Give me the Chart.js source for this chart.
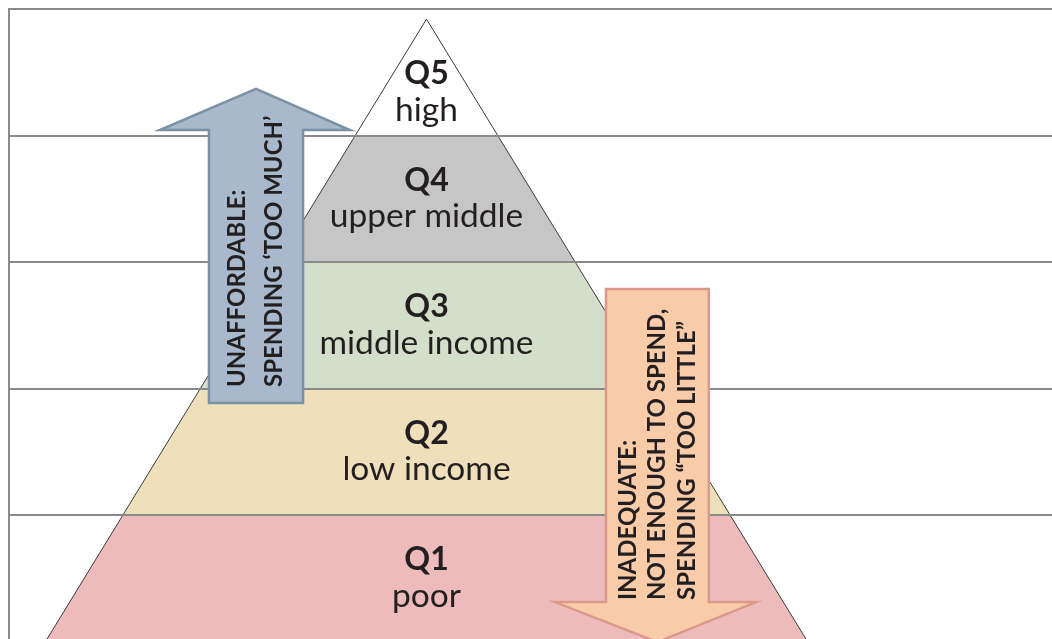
<!DOCTYPE html>
<html>
<head>
<meta charset="utf-8">
<script src="https://cdn.jsdelivr.net/npm/chart.js@4.4.1/dist/chart.umd.min.js"></script>
<style>
  html, body { margin: 0; padding: 0; background: #fff; }
  #wrap { width: 1052px; height: 639px; position: relative; }
</style>
</head>
<body>
<div id="wrap"><canvas id="pyramid"></canvas></div>
<script>
'use strict';

// ── Data (bottom band first) ──────────────────────────────────────────────
const QUINTILES     = ['Q1', 'Q2', 'Q3', 'Q4', 'Q5'];
const INCOME_LABELS = ['poor', 'low income', 'middle income', 'upper middle', 'high'];
const BAND_EDGES    = [0, 1, 2, 3, 4, 5];
const BAND_COLORS   = ['#eebbbd', '#ede0bb', '#d4dfcb', '#c6c6c6', '#ffffff'];
const PEAK          = 4.92;   // apex height in band units
const BASE_HALF     = 1;      // half-width of the pyramid at the bottom edge

const UP_TEXT   = ['UNAFFORDABLE:', 'SPENDING \u2018TOO MUCH\u2019'];
const DOWN_TEXT = ['INADEQUATE:', 'NOT ENOUGH TO SPEND,', 'SPENDING \u201CTOO LITTLE\u201D'];

// arrow outlines in axis units: shaft x-range, head x-range, tail / neck / tip heights
const UP_ARROW   = { text: UP_TEXT,   shaft: [-0.571, -0.324], head: [-0.700, -0.201], tail: 1.885, neck: 4.043, tip: 4.368, textFrom: 2.012,
                     fill: '#a9b9cb', stroke: '#7b91a5', lineGap: 37.5 };
const DOWN_ARROW = { text: DOWN_TEXT, shaft: [0.471, 0.741],   head: [0.337, 0.865],   tail: 2.787, neck: 0.312, tip: -0.004, textFrom: 0.328,
                     fill: '#f8cba9', stroke: '#d99a8a', lineGap: 29.5 };

// ── Layout ────────────────────────────────────────────────────────────────
const X_MIN = -1.0958, X_MAX = 1.6417;
const Y_MIN = 0.02,    Y_MAX = 5;
const GRID  = '#8a8a8a';
const INK   = '#231f20';
const FONT  = 'Lato, "Open Sans", sans-serif';

const halfWidth = h => BASE_HALF * (1 - h / PEAK);

function bandPolygon(i) {
  const lo = BAND_EDGES[i];
  const hi = Math.min(BAND_EDGES[i + 1], PEAK);
  const pts = [{ x: -halfWidth(lo), y: lo }, { x: halfWidth(lo), y: lo }];
  if (hi >= PEAK) pts.push({ x: 0, y: PEAK });
  else pts.push({ x: halfWidth(hi), y: hi }, { x: -halfWidth(hi), y: hi });
  pts.push({ ...pts[0] });
  return pts;
}

const bandSets = QUINTILES.map((q, i) => ({
  label: q,
  data: bandPolygon(i),
  showLine: true, fill: 'shape', tension: 0,
  backgroundColor: BAND_COLORS[i],
  borderColor: 'rgba(0,0,0,0)', borderWidth: 0,
  pointRadius: 0, order: 1,
}));

const outlineSet = {
  label: 'outline',
  data: [{ x: -BASE_HALF, y: 0 }, { x: 0, y: PEAK }, { x: BASE_HALF, y: 0 }],
  showLine: true, fill: false, tension: 0,
  borderColor: '#3a3a3a', borderWidth: 1,
  pointRadius: 0, order: 0,
};

// ── Plugins: arrows + band labels ───────────────────────────────────────────
const arrowsPlugin = {
  id: 'arrows',
  afterDraw(chart) {
    const { ctx, scales: { x, y } } = chart;
    [UP_ARROW, DOWN_ARROW].forEach(a => {
      const mid = (a.shaft[0] + a.shaft[1]) / 2;
      const pts = [
        [a.shaft[0], a.tail], [a.shaft[0], a.neck], [a.head[0], a.neck], [mid, a.tip],
        [a.head[1], a.neck], [a.shaft[1], a.neck], [a.shaft[1], a.tail],
      ];
      ctx.save();
      ctx.beginPath();
      pts.forEach(([px, py], i) => {
        const X = x.getPixelForValue(px), Y = y.getPixelForValue(py);
        i ? ctx.lineTo(X, Y) : ctx.moveTo(X, Y);
      });
      ctx.closePath();
      ctx.fillStyle = a.fill; ctx.fill();
      ctx.lineWidth = 2.5; ctx.strokeStyle = a.stroke; ctx.lineJoin = 'miter'; ctx.stroke();

      ctx.translate(x.getPixelForValue(mid), y.getPixelForValue(a.textFrom));
      ctx.rotate(-Math.PI / 2);
      ctx.font = `bold 24px ${FONT}`;
      ctx.fillStyle = INK; ctx.textAlign = 'left'; ctx.textBaseline = 'middle';
      const n = a.text.length;
      a.text.forEach((t, i) => ctx.fillText(t, 0, (i - (n - 1) / 2) * a.lineGap));
      ctx.restore();
    });
  }
};

const labelsPlugin = {
  id: 'bandLabels',
  afterDraw(chart) {
    const { ctx, scales: { x, y } } = chart;
    const cx = x.getPixelForValue(0);
    ctx.save();
    ctx.textAlign = 'center'; ctx.textBaseline = 'alphabetic'; ctx.fillStyle = INK;
    QUINTILES.forEach((q, i) => {
      let mid = y.getPixelForValue((BAND_EDGES[i] + BAND_EDGES[i + 1]) / 2);
      if (i === QUINTILES.length - 1) mid += 20;   // top band: nudge into the triangle
      ctx.font = `bold 32px ${FONT}`;
      ctx.fillText(q, cx, mid - 8);
      ctx.font = `33.5px ${FONT}`;
      ctx.fillText(INCOME_LABELS[i], cx, mid + 28.5);
    });
    ctx.restore();
  }
};

new Chart(document.getElementById('pyramid'), {
  type: 'scatter',
  data: { datasets: [outlineSet, ...bandSets] },
  options: {
    responsive: true, maintainAspectRatio: false, animation: false,
    layout: { padding: { left: 9, top: 9, right: 0, bottom: 0 } },
    plugins: { legend: { display: false }, tooltip: { enabled: false } },
    scales: {
      x: { type: 'linear', min: X_MIN, max: X_MAX, display: false },
      y: {
        type: 'linear', min: Y_MIN, max: Y_MAX,
        afterBuildTicks: s => { s.ticks = BAND_EDGES.filter(v => v >= Y_MIN).map(v => ({ value: v })); },
        ticks: { display: false },
        grid: { color: GRID, lineWidth: 2, drawTicks: false, z: 1 },
        border: { display: true, color: GRID, width: 2, z: 1 },
      },
    },
  },
  plugins: [arrowsPlugin, labelsPlugin],
});
</script>
</body>
</html>
